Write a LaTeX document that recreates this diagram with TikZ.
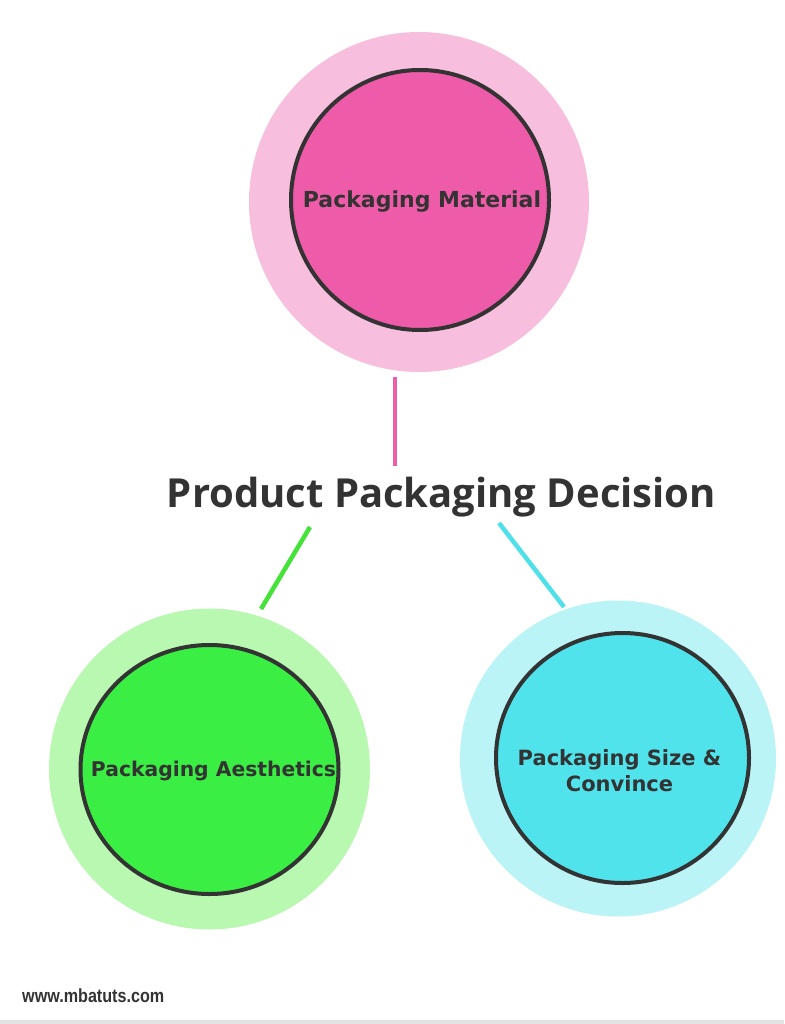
\documentclass[tikz,border=0pt]{standalone}
\usepackage{fontspec}
\usetikzlibrary{shapes.geometric}
\newfontfamily\labelfont{DejaVu Sans}[BoldFont={DejaVu Sans Bold}]
\newfontfamily\titlefont{Open Sans}
\newfontfamily\footfont{Liberation Sans}
\definecolor{dark}{HTML}{333333}
\definecolor{pinkI}{HTML}{EE5BA9}
\definecolor{pinkO}{HTML}{F7BFDD}
\definecolor{greenI}{HTML}{3BEE43}
\definecolor{greenO}{HTML}{B9F8B0}
\definecolor{cyanI}{HTML}{50E3EC}
\definecolor{cyanO}{HTML}{BAF4F7}
\definecolor{greenL}{HTML}{45E33A}
\definecolor{cyanL}{HTML}{4FE0EA}
\definecolor{footgray}{HTML}{E2E2E2}
\tikzset{
  halo/.style={circle, inner sep=0pt, minimum size=#1},
  core/.style={ellipse, draw=dark, line width=4pt, inner sep=0pt},
  lbl/.style={text=dark, font=\labelfont\bfseries\fontsize{#1}{26}\selectfont, align=center},
  link/.style={line width=4.5pt},
}
\begin{document}
\begin{tikzpicture}[x=1pt,y=-1pt]
\fill[white] (0,0) rectangle (784,1024);
\useasboundingbox (0,0) rectangle (784,1024);
\fill[footgray] (0,1020) rectangle (784,1024);
% top
\node[halo=340pt, fill=pinkO] (matO) at (419,202) {};
\node[core, fill=pinkI, minimum width=258pt, minimum height=260pt] (mat) at (420,200) {};
\node[lbl=22] (matT) at (422,202) {Packaging Material};
% green
\node[halo=321pt, fill=greenO] (aesO) at (209.5,769) {};
\node[core, fill=greenI, minimum width=258pt, minimum height=249pt] (aes) at (209.5,769.5) {};
\node[lbl=20.3] (aesT) at (213.5,771) {Packaging Aesthetics};
% cyan
\node[halo=316pt, fill=cyanO] (sizO) at (618,758.5) {};
\node[core, fill=cyanI, minimum width=253pt, minimum height=250pt] (siz) at (622.5,758) {};
\node[lbl=21] (sizT) at (619.5,771) {Packaging Size \&\\Convince};
% title
\node[text=dark, font=\titlefont\bfseries\fontsize{40}{48}\selectfont, inner sep=0pt] (title) at (441.5,497) {Product Packaging Decision};
% connectors
\coordinate (p1) at (395,377);
\coordinate (p2) at (395,466);
\coordinate (g1) at (310,527);
\coordinate (g2) at (261,609);
\coordinate (c1) at (499,523);
\coordinate (c2) at (564,607);
\draw[link, pinkI] (p1) -- (p2);
\draw[link, greenL] (g1) -- (g2);
\draw[link, cyanL] (c1) -- (c2);
% footer
\node[text=dark, inner sep=0pt, anchor=west] (foot) at (22,996) {\scalebox{0.85}[1]{\footfont\bfseries\fontsize{19}{22}\selectfont www.mbatuts.com}};
\end{tikzpicture}
\end{document}
